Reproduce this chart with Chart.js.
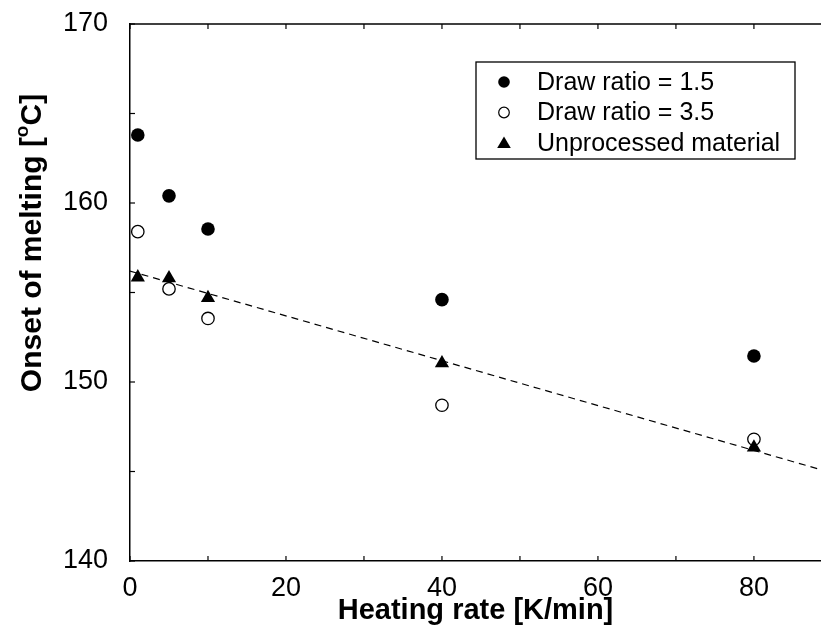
<!DOCTYPE html>
<html><head><meta charset="utf-8">
<script src="https://cdn.jsdelivr.net/npm/chart.js@4.4.1/dist/chart.umd.min.js"></script>
<style>html,body{margin:0;padding:0;background:#fff;}canvas{display:block;}</style>
</head><body>
<canvas id="c" width="821" height="637"></canvas>
<script>
// ---- data ----
const heatingRates = [1, 5, 10, 40, 80];
const drawRatio15 = [163.8, 160.4, 158.55, 154.6, 151.45];
const drawRatio35 = [158.4, 155.2, 153.55, 148.7, 146.8];
const unprocessed = [155.85, 155.8, 154.7, 151.05, 146.35];
const fitLineX = [0, 88.6];
const fitLineY = [156.2, 145.1];
const seriesLabels = ['Draw ratio = 1.5', 'Draw ratio = 3.5', 'Unprocessed material'];
const xLabelEvery = 20;
const yLabelEvery = 10;
const xTitle = 'Heating rate [K/min]';
const yTitleMain = 'Onset of melting [';
const yTitleSup = 'o';
const yTitleEnd = 'C]';

const FONT = '"Liberation Sans", Arial, Helvetica, sans-serif';
const toPts = (xs, ys) => xs.map((x, i) => ({x, y: ys[i]}));

const framePlugin = {
  id: 'frame',
  afterDatasetsDraw(chart) {
    const {ctx, chartArea: a, scales: {x, y}} = chart;
    ctx.save();
    ctx.strokeStyle = '#000';
    ctx.lineWidth = 1.5;
    ctx.beginPath(); ctx.moveTo(a.left, a.top); ctx.lineTo(a.right, a.top); ctx.stroke();
    ctx.lineWidth = 1.2;
    x.ticks.forEach(t => {
      const px = x.getPixelForValue(t.value);
      ctx.beginPath(); ctx.moveTo(px, a.bottom); ctx.lineTo(px, a.bottom - 5); ctx.stroke();
      ctx.beginPath(); ctx.moveTo(px, a.top); ctx.lineTo(px, a.top + 5); ctx.stroke();
    });
    y.ticks.forEach(t => {
      const py = y.getPixelForValue(t.value);
      ctx.beginPath(); ctx.moveTo(a.left, py); ctx.lineTo(a.left + 5, py); ctx.stroke();
    });
    // y title with superscript
    ctx.fillStyle = '#000';
    ctx.translate(41, 243);
    ctx.rotate(-Math.PI / 2);
    const big = 'bold 30px ' + FONT, small = 'bold 19px ' + FONT;
    ctx.font = big; const w1 = ctx.measureText(yTitleMain).width, w3 = ctx.measureText(yTitleEnd).width;
    ctx.font = small; const w2 = ctx.measureText(yTitleSup).width;
    let sx = -(w1 + w2 + w3) / 2;
    ctx.textBaseline = 'alphabetic'; ctx.textAlign = 'left';
    ctx.font = big; ctx.fillText(yTitleMain, sx, 0); sx += w1;
    ctx.font = small; ctx.fillText(yTitleSup, sx, -13); sx += w2;
    ctx.font = big; ctx.fillText(yTitleEnd, sx, 0);
    ctx.restore();

    // legend
    ctx.save();
    const box = {l: 476, t: 62, r: 795, b: 159};
    ctx.fillStyle = '#fff';
    ctx.fillRect(box.l, box.t, box.r - box.l, box.b - box.t);
    ctx.strokeStyle = '#000'; ctx.lineWidth = 1.3;
    ctx.strokeRect(box.l, box.t, box.r - box.l, box.b - box.t);
    const rows = [82, 112.5, 143];
    const mx = 504;
    ctx.font = '25px ' + FONT; ctx.fillStyle = '#000';
    ctx.textBaseline = 'middle'; ctx.textAlign = 'left';
    seriesLabels.forEach((lab, i) => {
      const cy = rows[i];
      ctx.beginPath();
      if (i === 0) { ctx.arc(mx, cy, 5.8, 0, Math.PI * 2); ctx.fillStyle = '#000'; ctx.fill(); }
      else if (i === 1) { ctx.arc(mx, cy, 5.3, 0, Math.PI * 2); ctx.lineWidth = 1.2; ctx.stroke(); }
      else { ctx.moveTo(mx, cy - 6.5); ctx.lineTo(mx + 6.8, cy + 5); ctx.lineTo(mx - 6.8, cy + 5); ctx.closePath(); ctx.fillStyle = '#000'; ctx.fill(); }
      ctx.fillStyle = '#000';
      ctx.fillText(lab, 537, cy + 1);
    });
    ctx.restore();
  }
};

new Chart(document.getElementById('c'), {
  type: 'scatter',
  data: {
    datasets: [
      { label: seriesLabels[2], data: toPts(heatingRates, unprocessed), order: 0,
        pointStyle: 'triangle', pointRadius: 8.2, backgroundColor: '#000', borderColor: '#000', borderWidth: 0 },
      { label: seriesLabels[1], data: toPts(heatingRates, drawRatio35), order: 1,
        pointStyle: 'circle', pointRadius: 6.2, backgroundColor: '#fff', borderColor: '#000', borderWidth: 1.3 },
      { label: seriesLabels[0], data: toPts(heatingRates, drawRatio15), order: 2,
        pointStyle: 'circle', pointRadius: 6.8, backgroundColor: '#000', borderColor: '#000', borderWidth: 0 },
      { type: 'line', label: 'fit', data: toPts(fitLineX, fitLineY), order: 3,
        borderColor: '#000', borderWidth: 1.2, borderDash: [7, 5], pointRadius: 0, fill: false, tension: 0 }
    ]
  },
  options: {
    responsive: false, animation: false, devicePixelRatio: 1,
    layout: { autoPadding: false, padding: { top: 24, right: 0, left: 0, bottom: 0 } },
    plugins: { legend: { display: false }, tooltip: { enabled: false } },
    scales: {
      x: {
        type: 'linear', min: 0, max: 88.6,
        ticks: { stepSize: 10, includeBounds: false, autoSkip: false, maxRotation: 0, padding: 3,
          color: '#000', font: { family: FONT, size: 27 },
          callback: v => (v % xLabelEvery === 0 ? String(v) : '') },
        grid: { display: false },
        border: { display: true, color: '#000', width: 1.5 },
        title: { display: true, text: xTitle, color: '#000', font: { family: FONT, size: 29, weight: 'bold' },
          padding: { top: 0, bottom: 9 } },
        afterFit: s => { s.height = 76; s.paddingLeft = 0; s.paddingRight = 0; }
      },
      y: {
        type: 'linear', min: 140, max: 170,
        ticks: { stepSize: 5, padding: 14, color: '#000', font: { family: FONT, size: 27 },
          callback: v => (v % yLabelEvery === 0 ? String(v) : '') },
        grid: { display: false },
        border: { display: true, color: '#000', width: 1.5 },
        afterFit: s => { s.width = 130; s.paddingTop = 0; s.paddingBottom = 0; }
      }
    }
  },
  plugins: [framePlugin]
});
</script>
</body></html>
